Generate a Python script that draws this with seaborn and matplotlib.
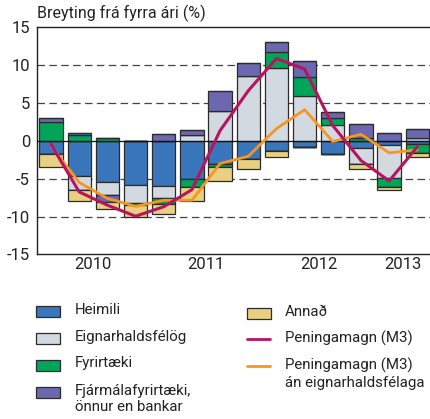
import numpy as np
import pandas as pd
import matplotlib
matplotlib.use("Agg")
import matplotlib.pyplot as plt
from matplotlib.patches import Rectangle
from matplotlib.lines import Line2D
import seaborn as sns

# ---- data ----
quarters = ["2010Q1", "2010Q2", "2010Q3", "2010Q4",
            "2011Q1", "2011Q2", "2011Q3", "2011Q4",
            "2012Q1", "2012Q2", "2012Q3", "2012Q4",
            "2013Q1", "2013Q2"]
year_labels = ["2010", "2011", "2012", "2013"]

heimili = [-1.7, -4.6, -5.5, -5.9, -6.0, -5.0, -3.1, -2.4, -1.3, -0.85, -1.75, -0.9, -0.6, -0.4]
eignarhalds = [0.0, -1.9, -1.7, -2.3, -1.6, 0.8, 3.95, 8.55, 9.55, 5.87, 2.1, -2.2, -4.25, 0.3]
fyrirtaeki = [2.5, 0.7, 0.4, -0.3, -0.8, -1.1, -0.3, 0.0, 2.2, 2.55, 0.9, 0.4, -1.25, -1.2]
fjarmala = [0.5, 0.3, -0.9, 0.0, 0.9, 0.65, 2.55, 1.75, 1.3, 2.15, 0.75, 1.8, 1.05, 1.2]
annad = [-1.7, -1.5, -0.95, -1.6, -1.3, -1.8, -1.9, -1.3, -0.85, 0.0, 0.0, -0.65, -0.4, -0.55]

m3 = [-0.5, -6.75, -8.5, -9.95, -8.7, -6.45, 1.35, 6.6, 10.85, 9.45, 2.0, -2.6, -5.3, -0.8]
m3_an = [-0.7, -5.5, -7.6, -8.65, -7.85, -7.85, -3.0, -2.05, 1.6, 4.1, -0.1, 0.85, -1.6, -1.2]

series_names = ["Heimili", "Eignarhaldsfélög", "Fyrirtæki",
                "Fjármálafyrirtæki,\nönnur en bankar", "Annað"]
line_names = ["Peningamagn (M3)", "Peningamagn (M3)\nán eignarhaldsfélaga"]

# ---- style ----
sns.set_theme(style="white")
plt.rcParams["font.family"] = ["Roboto", "DejaVu Sans"]
FS = 11.5
LFS = 10.8
TFS = 12

colors = ["#3a76bc", "#d3d9e0", "#00a55a", "#6c68b0", "#e8d083"]
line_colors = ["#b8135f", "#f7961f"]

fig = plt.figure(figsize=(4.30, 4.19), dpi=100)
ax = fig.add_axes([37 / 430, 1 - 254.5 / 419, 1 - 37 / 430, (254.5 - 27) / 419])

df = pd.DataFrame({"q": quarters, "Heimili": heimili, "Eign": eignarhalds,
                   "Fyr": fyrirtaeki, "Fjar": fjarmala, "Annad": annad})
x = np.arange(len(quarters))
pos_bottom = np.zeros(len(x))
neg_bottom = np.zeros(len(x))
for col, c in zip(["Heimili", "Eign", "Fyr", "Fjar", "Annad"], colors):
    vals = df[col].to_numpy()
    pos = np.where(vals > 0, vals, 0)
    neg = np.where(vals < 0, vals, 0)
    ax.bar(x, pos, bottom=pos_bottom, width=0.83, color=c,
           edgecolor="#2b2b2b", linewidth=0.9, zorder=2)
    ax.bar(x, neg, bottom=neg_bottom, width=0.83, color=c,
           edgecolor="#2b2b2b", linewidth=0.9, zorder=2)
    pos_bottom += pos
    neg_bottom += neg

ldf = pd.DataFrame({"x": x, "m3": m3, "m3an": m3_an})
sns.lineplot(data=ldf, x="x", y="m3an", color=line_colors[1], linewidth=2.0, ax=ax, zorder=4)
sns.lineplot(data=ldf, x="x", y="m3", color=line_colors[0], linewidth=2.2, ax=ax, zorder=5)

# grid & zero line
for yv in [10, 5, -5, -10]:
    ax.axhline(yv, color="#444444", linewidth=0.9, dashes=(6, 3.5), zorder=1)
ax.axhline(0, color="#111111", linewidth=0.9, zorder=3)

ax.set_ylim(-15, 15)
ax.set_xlim(-0.5, 13.45)
ax.set_yticks([-15, -10, -5, 0, 5, 10, 15])
ax.set_yticklabels(["-15", "-10", "-5", "0", "5", "10", "15"], fontsize=TFS)
ax.tick_params(axis="y", length=0, pad=5, colors="#222222")

ax.set_xticks([-0.5, 3.5, 7.5, 11.5])
ax.set_xticklabels([])
ax.set_xticks([1.5, 5.5, 9.5, 12.5], minor=True)
ax.set_xticklabels(year_labels, minor=True, fontsize=TFS)
ax.tick_params(axis="x", which="major", length=7, width=1, direction="out", color="#222222")
ax.tick_params(axis="x", which="minor", length=0, pad=2, colors="#222222")
ax.set_xlabel("")
ax.set_ylabel("")

for s in ["left", "bottom", "top"]:
    ax.spines[s].set_visible(True)
    ax.spines[s].set_color("#222222")
    ax.spines[s].set_linewidth(1.0)
ax.spines["right"].set_visible(False)

fig.text(37 / 430, 1 - 13 / 419, "Breyting frá fyrra ári (%)", fontsize=FS,
         ha="left", va="center", color="#222222")

# ---- legend (manual layout) ----
W, H = 430, 419
def patch(xp, yc, color):
    fig.add_artist(Rectangle((xp / W, 1 - (yc + 5.5) / H), 24 / W, 11 / H,
                             transform=fig.transFigure, facecolor=color,
                             edgecolor="#2b2b2b", linewidth=0.9))
def lmark(xp, yc, color):
    fig.add_artist(Line2D([xp / W, (xp + 23) / W], [1 - yc / H, 1 - yc / H],
                          transform=fig.transFigure, color=color, linewidth=2))
def label(xp, yc, s):
    fig.text(xp / W, 1 - yc / H, s, fontsize=LFS, ha="left", va="top",
             color="#222222", linespacing=1.25)

left_rows = [311, 338, 365, 392]
for i in range(4):
    patch(36, left_rows[i], colors[i])
    label(75, left_rows[i] - 8.5, series_names[i])
patch(247, 313, colors[4])
label(285, 313 - 8.5, series_names[4])
lmark(247, 339, line_colors[0])
label(285, 339 - 8.5, line_names[0])
lmark(247, 366, line_colors[1])
label(285, 366 - 8.5, line_names[1])

fig.savefig("out.png", dpi=100)
